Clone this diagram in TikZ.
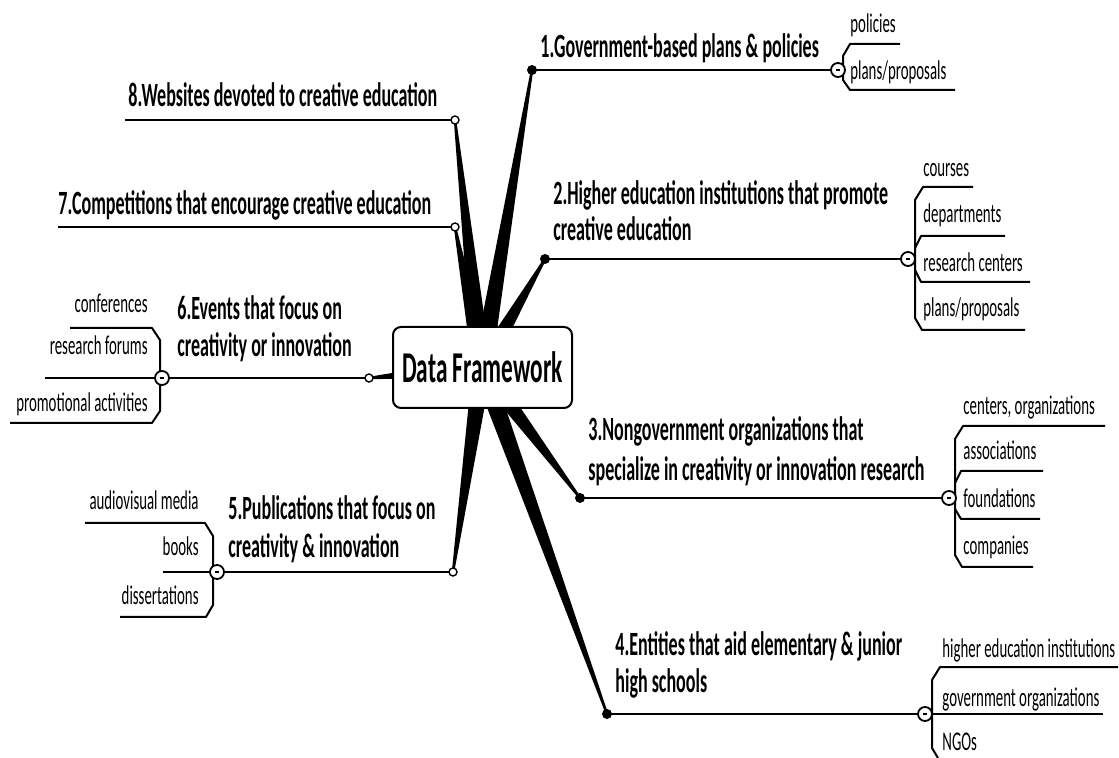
\documentclass[tikz,border=0pt]{standalone}
\usepackage{fontspec}
\setmainfont{Carlito}
\newfontfamily\mmfont[FakeStretch=0.53]{Carlito}
\newfontfamily\mmsubfont[FakeStretch=0.55]{Carlito}
\usetikzlibrary{calc}
\tikzset{
  br/.style={font=\mmfont\bfseries\fontsize{17}{19}\selectfont, anchor=base west, inner sep=0pt},
  subitem/.style={font=\mmsubfont\fontsize{13.5}{15}\selectfont, inner sep=0pt},
  subL/.style={subitem, anchor=base west},
  subR/.style={subitem, anchor=base east},
  bline/.style={line width=1pt},
  uline/.style={line width=1pt, line join=round},
  centre/.style={draw, line width=1pt, rounded corners=4pt, fill=white,
    minimum width=89.5pt, minimum height=40.5pt, inner sep=0pt,
    font=\mmfont\bfseries\fontsize{22}{24}\selectfont},
  enddot/.style={circle, fill=black, inner sep=0pt, minimum size=5pt},
  endring/.style={circle, draw, fill=white, line width=0.7pt, inner sep=0pt, minimum size=4pt},
  toggle/.style={circle, draw, fill=white, line width=0.9pt, inner sep=0pt, minimum size=7pt,
    path picture={\draw[line width=0.6pt] ([xshift=-1.2pt]path picture bounding box.center) -- ([xshift=1.2pt]path picture bounding box.center);}}
}
\newcommand\mmwedge[2]{\fill ($(#1)!4.8pt!90:(#2)$) -- ($(#2)!0.6pt!-90:(#1)$) -- ($(#2)!0.6pt!90:(#1)$) -- ($(#1)!4.8pt!-90:(#2)$) -- cycle;}
\begin{document}
\begin{tikzpicture}[x=0.5pt, y=-0.5pt]
\useasboundingbox (0,0) rectangle (1119,758);
% coordinates
\coordinate (o) at (482,368);
\coordinate (e1) at (532,70);
\coordinate (e2) at (545,259);
\coordinate (e3) at (580,498);
\coordinate (e4) at (607,714);
\coordinate (e5) at (453,572);
\coordinate (e6) at (369,378);
\coordinate (e7) at (455,227);
\coordinate (e8) at (455,120);
\coordinate (f7) at (58,227);
\coordinate (f8) at (125,120);
\coordinate (c1) at (838,70);
\coordinate (c2) at (908,259);
\coordinate (c3) at (949,498);
\coordinate (c4) at (925,714);
\coordinate (c5) at (217,572);
\coordinate (c6) at (162,378);
% tapered connectors
\mmwedge{o}{e1}
\mmwedge{o}{e2}
\mmwedge{o}{e3}
\mmwedge{o}{e4}
\mmwedge{o}{e5}
\mmwedge{o}{e6}
\mmwedge{o}{e7}
\mmwedge{o}{e8}
% central topic
\node[centre] (dc) at (482.5,367.5) {Data Framework};
% branch lines
\draw[bline] (e1) -- (c1);
\draw[bline] (e2) -- (c2);
\draw[bline] (e3) -- (c3);
\draw[bline] (e4) -- (c4);
\draw[bline] (e5) -- (c5);
\draw[bline] (e6) -- (c6);
\draw[bline] (e7) -- (f7);
\draw[bline] (e8) -- (f8);
% sub brackets
\draw[uline] (900,44) -- (850,44) -- (843,56) -- (843,80) -- (850,90) -- (955,90);
\draw[uline] (973,187) -- (923,187) -- (915,200) -- (915,318) -- (922,330) -- (1025,330);
\draw[uline] (915,248) -- (921,236) -- (1005,236);
\draw[uline] (915,270) -- (921,282) -- (1030,282);
\draw[uline] (1105,426) -- (963,426) -- (955,439) -- (955,555) -- (962,567) -- (1033,567);
\draw[uline] (955,483) -- (961,471) -- (1043,471);
\draw[uline] (955,509) -- (961,519) -- (1040,519);
\draw[uline] (1118,667) -- (940,667) -- (932,680) -- (932,748) -- (938,758);
\draw[uline] (c4) -- (1103,714);
\draw[uline] (85,523) -- (205,523) -- (213,536) -- (213,605) -- (206,617) -- (120,617);
\draw[uline] (163,572) -- (c5);
\draw[uline] (70,328) -- (152,328) -- (160,340) -- (160,411) -- (152,423) -- (10,423);
\draw[uline] (45,378) -- (c6);
% end markers
\node[enddot] (d1) at (e1) {};
\node[enddot] (d2) at (e2) {};
\node[enddot] (d3) at (e3) {};
\node[enddot] (d4) at (e4) {};
\node[endring] (d5) at (e5) {};
\node[endring] (d6) at (e6) {};
\node[endring] (d7) at (e7) {};
\node[endring] (d8) at (e8) {};
% toggles
\node[toggle] (k1) at (c1) {};
\node[toggle] (k2) at (c2) {};
\node[toggle] (k3) at (c3) {};
\node[toggle] (k4) at (c4) {};
\node[toggle] (k5) at (c5) {};
\node[toggle] (k6) at (c6) {};
% branch labels
\node[br] (t1) at (540,58) {1.Government-based plans \& policies};
\node[br] (t2a) at (553,205) {2.Higher education institutions that promote};
\node[br] (t2b) at (553,241) {creative education};
\node[br] (t3a) at (588,441) {3.Nongovernment organizations that};
\node[br] (t3b) at (588,481) {specialize in creativity or innovation research};
\node[br] (t4a) at (615,655) {4.Entities that aid elementary \& junior};
\node[br] (t4b) at (615,692) {high schools};
\node[br] (t5a) at (228,520) {5.Publications that focus on};
\node[br] (t5b) at (228,558) {creativity \& innovation};
\node[br] (t6a) at (177,320) {6.Events that focus on};
\node[br] (t6b) at (177,357) {creativity or innovation};
\node[br] (t7) at (58,215) {7.Competitions that encourage creative education};
\node[br] (t8) at (128,107) {8.Websites devoted to creative education};
% sub labels
\node[subL] (s11) at (850,33) {policies};
\node[subL] (s12) at (850,80) {plans/proposals};
\node[subL] (s21) at (923,177) {courses};
\node[subL] (s22) at (923,223) {departments};
\node[subL] (s23) at (923,272) {research centers};
\node[subL] (s24) at (923,317) {plans/proposals};
\node[subL] (s31) at (963,415) {centers, organizations};
\node[subL] (s32) at (963,460) {associations};
\node[subL] (s33) at (963,508) {foundations};
\node[subL] (s34) at (963,555) {companies};
\node[subL] (s41) at (942,657) {higher education institutions};
\node[subL] (s42) at (942,706) {government organizations};
\node[subL] (s43) at (942,750) {NGOs};
\node[subR] (s51) at (199,510) {audiovisual media};
\node[subR] (s52) at (199,556) {books};
\node[subR] (s53) at (199,605) {dissertations};
\node[subR] (s61) at (148,313) {conferences};
\node[subR] (s62) at (148,355) {research forums};
\node[subR] (s63) at (148,412) {promotional activities};
\end{tikzpicture}
\end{document}
